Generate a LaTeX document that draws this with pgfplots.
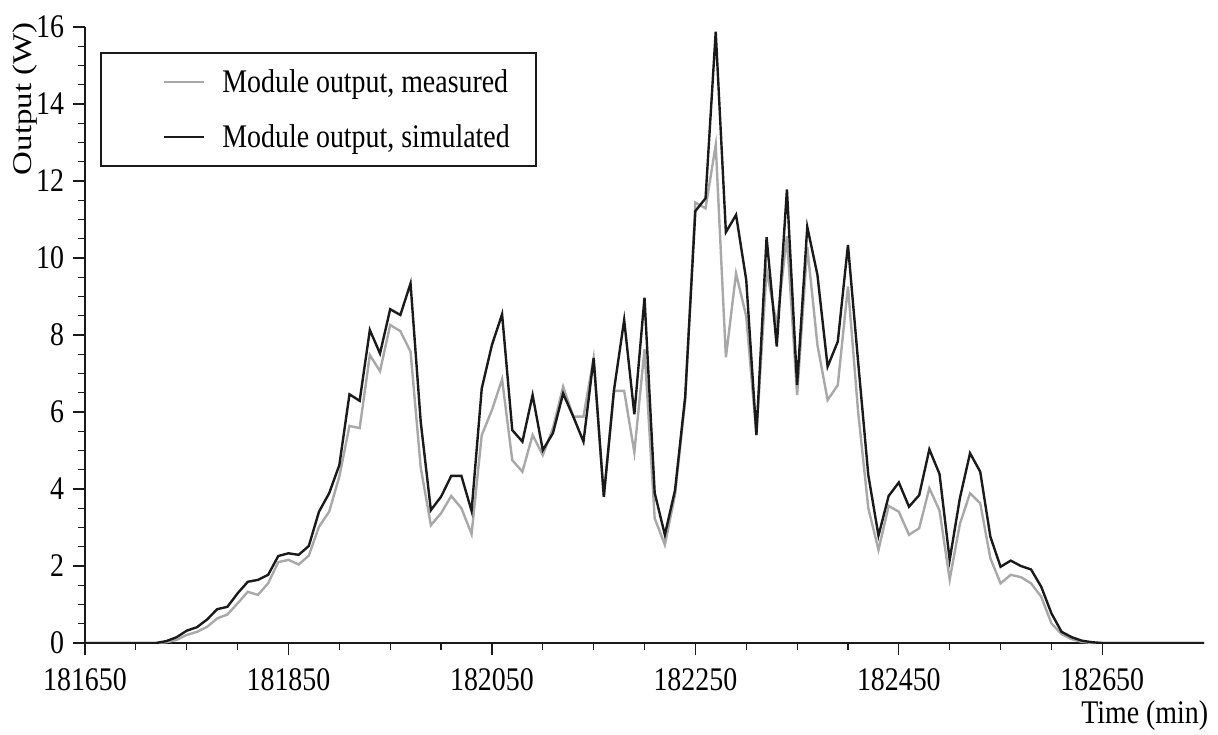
\documentclass[border=0pt]{standalone}
\usepackage{fontspec}
\setmainfont{Liberation Serif}[FakeStretch=0.845]
\newfontfamily\ylabfont{Liberation Serif}[FakeStretch=1.22]
\usepackage{pgfplots}
\usepackage{pgfplotstable}
\pgfplotsset{compat=1.18}
\definecolor{measgray}{HTML}{A8A8A8}
\definecolor{simblack}{HTML}{1A1A1A}
\newcommand{\chartfont}{\fontsize{16.5}{18}\selectfont}
\pgfplotstableread{
t meas sim
181650 0 0
181660 0 0
181670 0 0
181680 0 0
181690 0 0
181700 0 0
181710 0 0
181720 0 0
181730 0.02 0.05
181740 0.08 0.15
181750 0.21 0.32
181760 0.29 0.41
181770 0.42 0.61
181780 0.64 0.88
181790 0.74 0.94
181800 1.03 1.29
181810 1.33 1.59
181820 1.25 1.64
181830 1.55 1.77
181840 2.10 2.26
181850 2.16 2.33
181860 2.04 2.29
181870 2.27 2.52
181880 3.02 3.41
181890 3.41 3.89
181900 4.32 4.62
181910 5.64 6.46
181920 5.58 6.29
181930 7.48 8.13
181940 7.06 7.52
181950 8.26 8.67
181960 8.10 8.52
181970 7.57 9.34
181980 4.56 5.75
181990 3.06 3.45
182000 3.37 3.80
182010 3.82 4.34
182020 3.50 4.34
182030 2.83 3.43
182040 5.40 6.61
182050 6.05 7.74
182060 6.85 8.54
182070 4.75 5.53
182080 4.45 5.23
182090 5.40 6.44
182100 4.88 5.01
182110 5.58 5.45
182120 6.66 6.48
182130 5.88 5.88
182140 5.88 5.23
182150 7.40 7.40
182160 3.80 3.80
182170 6.55 6.57
182180 6.55 8.39
182190 4.95 5.94
182200 7.63 8.97
182210 3.24 3.90
182220 2.55 2.81
182230 3.85 3.97
182240 6.30 6.40
182250 11.44 11.22
182260 11.29 11.55
182270 12.94 15.88
182280 7.42 10.67
182290 9.60 11.12
182300 8.48 9.43
182310 5.40 5.40
182320 9.69 10.54
182330 8.26 7.70
182340 10.57 11.78
182350 6.44 6.70
182360 10.29 10.81
182370 7.74 9.56
182380 6.31 7.18
182390 6.70 7.83
182400 9.26 10.34
182410 6.00 7.30
182420 3.50 4.36
182430 2.42 2.79
182440 3.56 3.82
182450 3.41 4.17
182460 2.81 3.54
182470 2.98 3.84
182480 4.02 5.03
182490 3.44 4.39
182500 1.65 2.16
182510 3.09 3.76
182520 3.89 4.93
182530 3.63 4.45
182540 2.20 2.76
182550 1.55 1.98
182560 1.77 2.14
182570 1.71 2.00
182580 1.55 1.91
182590 1.20 1.46
182600 0.51 0.77
182610 0.23 0.29
182620 0.10 0.15
182630 0.03 0.06
182640 0 0.02
182650 0 0
182660 0 0
182670 0 0
182680 0 0
182690 0 0
182700 0 0
182710 0 0
182720 0 0
182730 0 0
182740 0 0
182750 0 0
}\datatable
\begin{document}
\begin{tikzpicture}[font=\chartfont]
\path[use as bounding box] (-42.5pt,-45.5pt) rectangle (566.5pt,321.5pt);
\begin{axis}[
  at={(0pt,0pt)}, anchor=south west,
  scale only axis, width=559.5pt, height=308pt,
  xmin=181650, xmax=182750, ymin=0, ymax=16,
  axis lines*=left,
  axis line style={line width=1.3pt, color=simblack},
  tick align=outside,
  major tick length=6pt, minor tick length=3.5pt,
  tick style={line width=0.6pt, color=simblack},
  xtick={181650,181850,182050,182250,182450,182650},
  minor x tick num=3,
  ytick={0,2,...,16},
  minor y tick num=3,
  scaled x ticks=false,
  /pgf/number format/assume math mode=true,
  x tick label style={/pgf/number format/fixed, /pgf/number format/precision=0, /pgf/number format/1000 sep={}, font=\chartfont, yshift=-3pt},
  y tick label style={/pgf/number format/fixed, font=\chartfont, xshift=-1pt},
  xlabel={Time (min)},
  ylabel={Output (W)},
  xlabel style={at={(axis description cs:1.004,-0.13)}, anchor=base east, inner sep=0pt},
  ylabel style={at={(axis description cs:-0.0474,1.008)}, anchor=base east, inner sep=0pt, font=\ylabfont\fontsize{13.5}{15}\selectfont},
  legend cell align=left,
  legend style={at={(axis description cs:0.0134,0.959)}, anchor=north west,
    draw=simblack, line width=1pt, inner xsep=11pt, inner ysep=6pt, row sep=10.5pt,
    font=\chartfont},
  legend image code/.code={\path (0pt,0pt); \draw[#1] (20pt,0pt) -- (40pt,0pt); \path (46.5pt,0pt);},
]
\addplot[measgray, line width=1.2pt] table[x=t, y=meas] {\datatable};
\addlegendentry{Module output, measured}
\addplot[simblack, line width=1.2pt] table[x=t, y=sim] {\datatable};
\addlegendentry{Module output, simulated}
\end{axis}
\end{tikzpicture}
\end{document}
